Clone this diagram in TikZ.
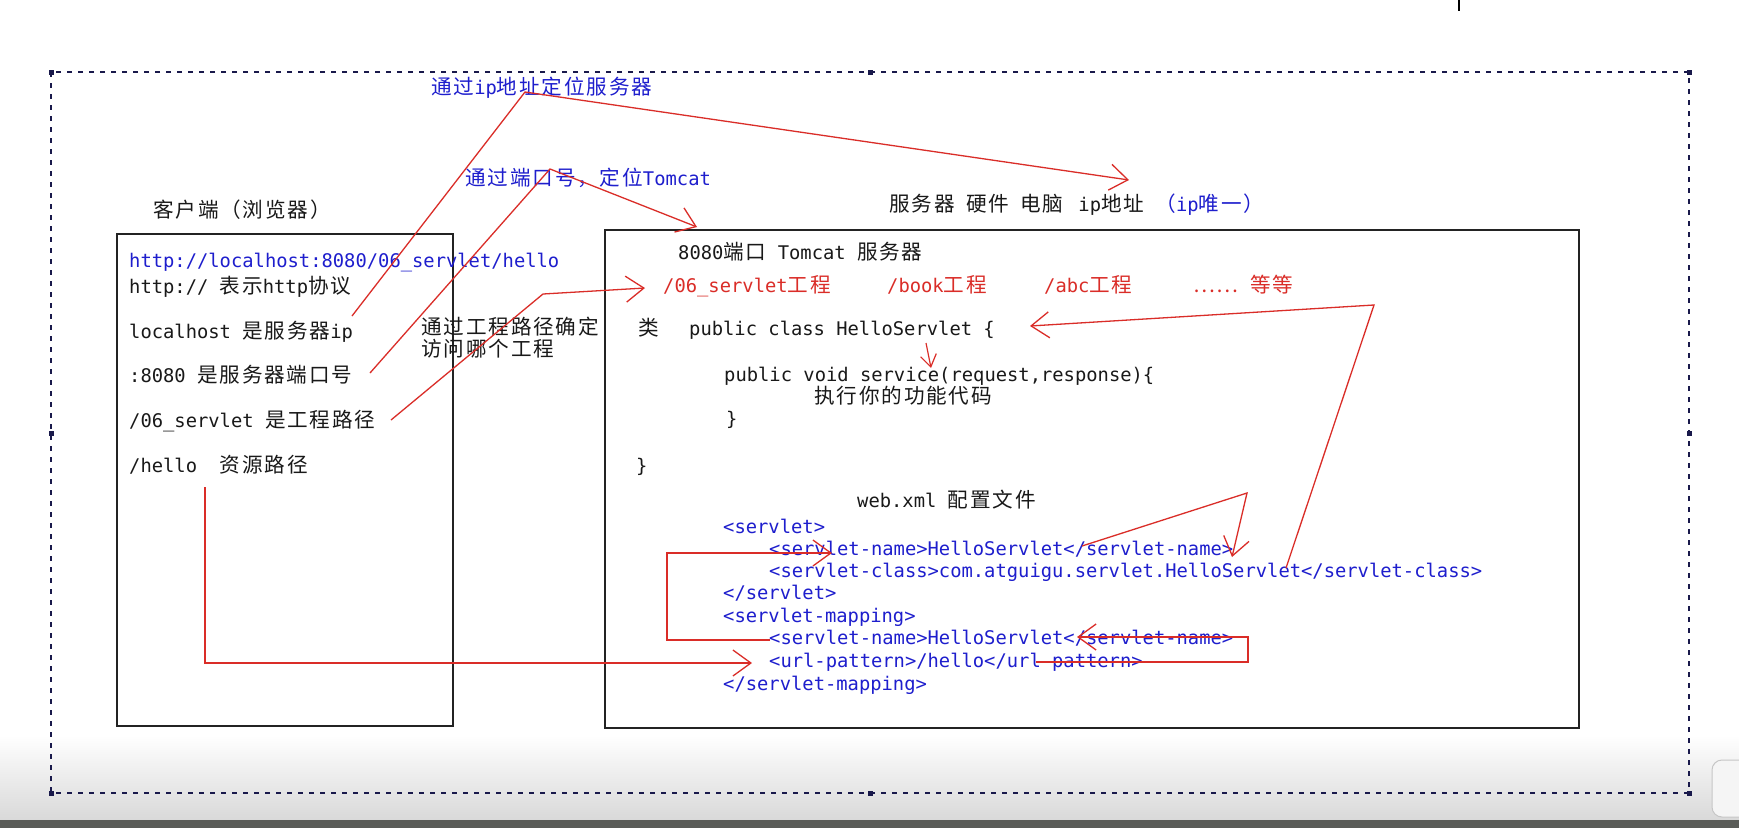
\documentclass[tikz,border=0pt]{standalone}
\usepackage{fontspec}
\setmainfont{DejaVu Sans Mono}
\newfontfamily\zhf{Noto Sans CJK SC}[LetterSpace=9]
\usetikzlibrary{arrows.meta}
\definecolor{redl}{RGB}{218,45,40}
\definecolor{bluet}{RGB}{30,30,205}
\definecolor{navy}{RGB}{25,25,75}
\definecolor{ink}{RGB}{25,25,25}
\definecolor{darkbar}{RGB}{90,92,88}
\newcommand\zh[1]{{\zhf\fontsize{20.6}{22}\selectfont #1}}
\begin{document}
\begin{tikzpicture}[x=1pt,y=-1pt,
  txt/.style={anchor=west, inner sep=0pt, text height=14pt, text depth=4pt,
    font=\fontsize{18.8}{22}\selectfont, text=ink},
  bl/.style={txt, text=bluet},
  rd/.style={txt, text=redl},
  boxline/.style={draw={rgb,255:red,35;green,35;blue,35}, line width=1.5pt},
  redline/.style={draw=redl, line width=1.3pt, line join=miter,
    -{Straight Barb[length=18pt,width=26pt]}},
  redsmall/.style={draw=redl, line width=1.2pt,
    -{Straight Barb[length=12pt,width=16pt]}},
  handle/.style={fill=navy, minimum size=5pt, inner sep=0pt, draw=none}
]
\useasboundingbox (0,0) rectangle (1739,828);
% background
\fill[white] (0,0) rectangle (1739,828);
\shade[top color=white, bottom color=gray!30] (0,735) rectangle (1739,820);
\fill[darkbar] (0,820) rectangle (1739,828);
\draw[line width=1.5pt, black] (1459,0) -- (1459,11);
\draw[gray!45, fill=gray!8, line width=1pt, rounded corners=10pt] (1712,760) rectangle (1770,817);

% dashed frame
\draw[navy, line width=1.4pt, dash pattern=on 5pt off 6pt] (51,72) rectangle (1689,793);
\foreach \p [count=\i] in {(51,72),(870,72),(1689,72),(51,433),(1689,433),(51,793),(870,793),(1689,793)}
  \node[handle] (h\i) at \p {};

% boxes
\draw[boxline] (117,234) rectangle (453,726);
\draw[boxline] (605,230) rectangle (1579,728);

% titles
\node[txt] (ctitle) at (153,212) {\zh{客户端（浏览器）}};
\node[txt] (stitle) at (889,206) {\zh{服务器} \zh{硬件} \zh{电脑}\hspace{15pt}ip\zh{地址} \textcolor{bluet}{\zh{（}ip\zh{唯一）}}};

% client box text
\node[bl] (url) at (129,262) {http://localhost:8080/06\_servlet/hello};
\node[txt] (l1) at (129,288) {http:// \zh{表示}http\zh{协议}};
\node[txt] (l2) at (129,333) {localhost \zh{是服务器}ip};
\node[txt] (l3) at (129,377) {:8080 \zh{是服务器端口号}};
\node[txt] (l4) at (129,422) {/06\_servlet \zh{是工程路径}};
\node[txt] (l5) at (129,467) {/hello\hspace{11.3pt} \zh{资源路径}};

% labels
\node[bl] (lab1) at (431,89) {\zh{通过}ip\zh{地址定位服务器}};
\node[bl] (lab2) at (465,180) {\zh{通过端口号，定位}Tomcat};
\node[txt] (lab3a) at (421,329) {\zh{通过工程路径确定}};
\node[txt] (lab3b) at (421,351) {\zh{访问哪个工程}};

% server box text
\node[txt] (tomcat) at (678,254) {8080\zh{端口} Tomcat \zh{服务器}};
\node[rd] (p1) at (663,287) {/06\_servlet\zh{工程}};
\node[rd] (p2) at (887,287) {/book\zh{工程}};
\node[rd] (p3) at (1044,287) {/abc\zh{工程}};
\node[rd] (p4) at (1193,287) {\zh{……} \zh{等等}};
\node[txt] (lei) at (638,330) {\zh{类}};
\node[txt] (cls) at (689,330) {public class HelloServlet \{};
\node[txt] (svc) at (724,376) {public void service(request,response)\{};
\node[txt] (exec) at (814,398) {\zh{执行你的功能代码}};
\node[txt] (cb1) at (726,420) {\}};
\node[txt] (cb2) at (636,467) {\}};
\node[txt] (webxml) at (857,502) {web.xml \zh{配置文件}};
\node[bl] (x1) at (723,528) {<servlet>};
\node[bl] (x2) at (769,550) {<servlet-name>HelloServlet</servlet-name>};
\node[bl] (x3) at (769,572) {<servlet-class>com.atguigu.servlet.HelloServlet</servlet-class>};
\node[bl] (x4) at (723,594) {</servlet>};
\node[bl] (x5) at (723,617) {<servlet-mapping>};
\node[bl] (x6) at (769,639) {<servlet-name>HelloServlet</servlet-name>};
\node[bl] (x7) at (769,662) {<url-pattern>/hello</url-pattern>};
\node[bl] (x8) at (723,685) {</servlet-mapping>};

% connector points
\coordinate (a1) at (352,316); \coordinate (a2) at (525,92); \coordinate (a3) at (1129,180);
\coordinate (b1) at (370,373); \coordinate (b2) at (550,169); \coordinate (b3) at (697,227);
\coordinate (c1) at (391,420); \coordinate (c2) at (543,294); \coordinate (c3) at (645,288);
\coordinate (d1) at (1286,568); \coordinate (d2) at (1374,305); \coordinate (d3) at (1030,326);
\coordinate (e1) at (926,343); \coordinate (e2) at (931,368);
\coordinate (f1) at (1082,546); \coordinate (f2) at (1247,493); \coordinate (f3) at (1232,557);
\coordinate (g1) at (770,640); \coordinate (g2) at (667,640); \coordinate (g3) at (667,553); \coordinate (g4) at (832,553);
\coordinate (k1) at (1036,662); \coordinate (k2) at (1248,662); \coordinate (k3) at (1248,637); \coordinate (k4) at (1077,637);
\coordinate (m1) at (205,487); \coordinate (m2) at (205,663); \coordinate (m3) at (752,663);

\draw[redline] (a1) -- (a2) -- (a3);
\draw[redline] (b1) -- (b2) -- (b3);
\draw[redline] (c1) -- (c2) -- (c3);
\draw[redline] (d1) -- (d2) -- (d3);
\draw[redsmall] (e1) -- (e2);
\draw[redline] (f1) -- (f2) -- (f3);
\draw[redline] (g1) -- (g2) -- (g3) -- (g4);
\draw[redline] (k1) -- (k2) -- (k3) -- (k4);
\draw[redline] (m1) -- (m2) -- (m3);
\end{tikzpicture}
\end{document}
